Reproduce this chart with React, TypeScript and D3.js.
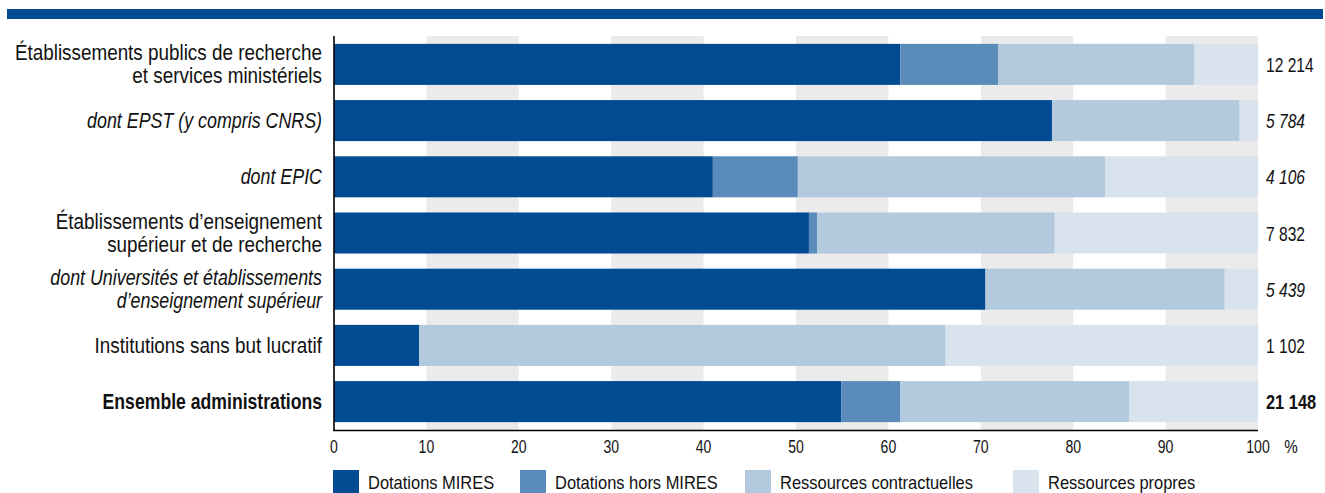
import React from "react";
import * as d3 from "d3";

// Row labels (line breaks mark the wrapped second line)
const categories = [
  "Établissements publics de recherche\net services ministériels",
  "dont EPST (y compris CNRS)",
  "dont EPIC",
  "Établissements d’enseignement\nsupérieur et de recherche",
  "dont Universités et établissements\nd’enseignement supérieur",
  "Institutions sans but lucratif",
  "Ensemble administrations",
];
// Hierarchy level of each row: main group, sub-group ("dont ..."), or overall total
const rowLevels = ["group", "sub", "sub", "group", "sub", "group", "total"];

// Shares of each resource type, in %
const dotationsMires = [61.3, 77.7, 41.0, 51.4, 70.5, 9.2, 54.9];
const dotationsHorsMires = [10.6, 0, 9.2, 0.9, 0, 0, 6.4];
const ressourcesContractuelles = [21.2, 20.3, 33.3, 25.7, 25.9, 57.0, 24.8];
const ressourcesPropres = [6.9, 2.0, 16.5, 22.0, 3.6, 33.8, 13.9];

// Total resources per row (M€)
const totals = ["12 214", "5 784", "4 106", "7 832", "5 439", "1 102", "21 148"];

const seriesNames = [
  "Dotations MIRES",
  "Dotations hors MIRES",
  "Ressources contractuelles",
  "Ressources propres",
];
const xTicks = [0, 10, 20, 30, 40, 50, 60, 70, 80, 90, 100];

const COLORS = ["#004b91", "#5b8bba", "#b3c9de", "#d9e3ee"];
const FONT = "'Liberation Sans', Arial, sans-serif";

// Horizontally condensed text: the font is narrowed with a scale on x
function CText({
  x,
  y,
  size,
  sx,
  anchor = "start",
  italic = false,
  bold = false,
  lines,
  lineGap = 23,
}: {
  x: number;
  y: number;
  size: number;
  sx: number;
  anchor?: "start" | "middle" | "end";
  italic?: boolean;
  bold?: boolean;
  lines: string[];
  lineGap?: number;
}) {
  return (
    <text
      transform={`translate(${x},${y}) scale(${sx},1)`}
      fontSize={size}
      textAnchor={anchor}
      fill="#111"
      fontStyle={italic ? "italic" : "normal"}
      fontWeight={bold ? "bold" : "normal"}
    >
      {lines.map((l, i) => (
        <tspan key={i} x={0} y={i * lineGap}>
          {l}
        </tspan>
      ))}
    </text>
  );
}

export default function App() {
  const W = 1325;
  const H = 493;
  const x = d3.scaleLinear().domain([0, 100]).range([334, 1258]);
  const y = d3
    .scaleBand<string>()
    .domain(categories)
    .range([36, 430])
    .paddingInner(0.27)
    .paddingOuter(0.14);

  const rows = categories.map((c, i) => ({
    cat: c,
    [seriesNames[0]]: dotationsMires[i],
    [seriesNames[1]]: dotationsHorsMires[i],
    [seriesNames[2]]: ressourcesContractuelles[i],
    [seriesNames[3]]: ressourcesPropres[i],
  }));
  const stacked = d3.stack<any>().keys(seriesNames)(rows);

  const stripes = d3.range(10, 100, 20);
  const legendX = [333, 520, 745, 1013];
  const [y0, y1] = y.range();

  return (
    <svg
      width={W}
      height={H}
      style={{ position: "absolute", left: 0, top: 0, fontFamily: FONT }}
    >
      <rect x={0} y={0} width={W} height={H} fill="#fff" />
      {/* header band */}
      <rect x={7} y={9} width={1316} height={10} fill={COLORS[0]} />

      {/* alternating grey columns */}
      {stripes.map((s) => (
        <rect
          key={s}
          x={x(s)}
          y={y0}
          width={x(s + 10) - x(s)}
          height={y1 - y0}
          fill="#ebebeb"
        />
      ))}

      {/* stacked bars */}
      {stacked.map((layer, si) => (
        <g key={layer.key} fill={COLORS[si]}>
          {layer.map((d, i) =>
            d[1] - d[0] > 0 ? (
              <rect
                key={i}
                x={x(d[0])}
                y={y(categories[i])}
                width={x(d[1]) - x(d[0])}
                height={y.bandwidth()}
              />
            ) : null
          )}
        </g>
      ))}

      {/* axes */}
      <line x1={x(0)} y1={y0} x2={x(0)} y2={y1 + 1} stroke="#000" strokeWidth={1.6} />
      <line x1={x(0) - 1} y1={y1 + 0.5} x2={x(100)} y2={y1 + 0.5} stroke="#000" strokeWidth={1.6} />

      {xTicks.map((t) => (
        <CText key={t} x={x(t)} y={452.5} size={19} sx={0.74} anchor="middle" lines={[String(t)]} />
      ))}
      <CText x={1291} y={452.5} size={19} sx={0.8} anchor="middle" lines={["%"]} />

      {/* row labels */}
      {categories.map((c, i) => {
        const lines = c.split("\n");
        const cy = (y(c) as number) + y.bandwidth() / 2;
        const lvl = rowLevels[i];
        const sx = lvl === "sub" ? 0.83 : lvl === "total" ? 0.82 : 0.877;
        return (
          <CText
            key={c}
            x={322}
            y={cy + 7.5 - ((lines.length - 1) / 2) * 23}
            size={21.5}
            sx={sx}
            anchor="end"
            italic={lvl === "sub"}
            bold={lvl === "total"}
            lines={lines}
          />
        );
      })}

      {/* totals */}
      {totals.map((t, i) => {
        const lvl = rowLevels[i];
        return (
          <CText
            key={i}
            x={1266}
            y={(y(categories[i]) as number) + y.bandwidth() / 2 + 7.5}
            size={20}
            sx={lvl === "total" ? 0.82 : 0.78}
            italic={lvl === "sub"}
            bold={lvl === "total"}
            lines={[t]}
          />
        );
      })}

      {/* legend */}
      {seriesNames.map((n, i) => (
        <g key={n}>
          <rect x={legendX[i]} y={470} width={26} height={23} fill={COLORS[i]} />
          <CText x={legendX[i] + 35} y={488.5} size={18.5} sx={0.89} lines={[n]} />
        </g>
      ))}
    </svg>
  );
}
